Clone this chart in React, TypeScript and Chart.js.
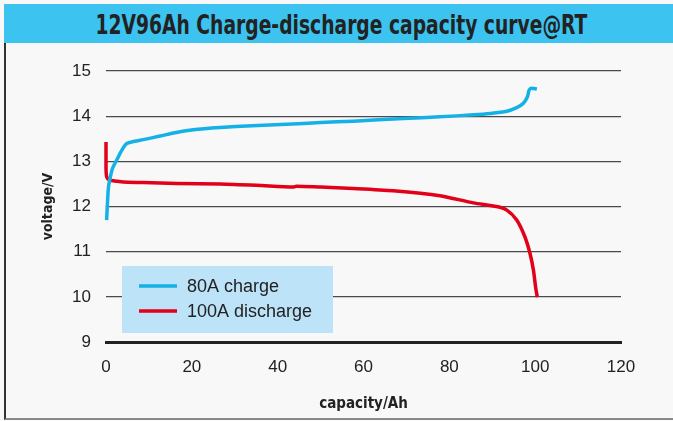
import React, { useEffect, useRef } from "react";
import { Chart, registerables } from "chart.js";

Chart.register(...registerables);

const chartTitle = "12V96Ah Charge-discharge capacity curve@RT";
const xTitle = "capacity/Ah";
const yTitle = "voltage/V";
const seriesLabels = ["80A charge", "100A discharge"];
const xTickValues = [0, 20, 40, 60, 80, 100, 120];
const yTickValues = [9, 10, 11, 12, 13, 14, 15];

const chargeCap = [0.15, 0.35, 0.6, 1.0, 1.5, 2.5, 3.7, 4.8, 6.0, 8.7, 12.6, 16.4, 20.3, 26.6, 34, 42.1, 50, 57.6, 69.3, 77.8, 85.6, 89.5, 93.4, 95.7, 97.2, 98.2, 98.6, 99.2, 100.4];
const chargeVolt = [11.7, 12.1, 12.45, 12.65, 12.84, 13.03, 13.25, 13.39, 13.43, 13.48, 13.56, 13.64, 13.7, 13.75, 13.79, 13.82, 13.86, 13.89, 13.95, 13.985, 14.03, 14.06, 14.11, 14.19, 14.28, 14.43, 14.58, 14.62, 14.6];

const dischargeCap = [0, 0, 0.15, 0.8, 2.5, 4, 8.7, 16.5, 26.6, 35, 43.6, 44.4, 50, 57.6, 66.9, 77.8, 85.6, 91, 93.4, 95.7, 97.6, 98.8, 99.6, 100.1, 100.5];
const dischargeVolt = [13.43, 12.88, 12.66, 12.59, 12.56, 12.54, 12.53, 12.51, 12.5, 12.47, 12.43, 12.45, 12.43, 12.4, 12.35, 12.24, 12.08, 12.0, 11.92, 11.7, 11.33, 10.96, 10.59, 10.22, 9.99];

const chargeColor = "#14b1e7";
const dischargeColor = "#e2001a";

const legendPlugin = {
  id: "boxLegend",
  afterDatasetsDraw(chart: any) {
    const { ctx, chartArea } = chart;
    const x0 = chartArea.left + 16;
    const y0 = chartArea.top + 195;
    const w = 211;
    const h = 67;
    ctx.save();
    ctx.fillStyle = "#bde3f8";
    ctx.fillRect(x0, y0, w, h);
    chart.data.datasets.forEach((ds: any, i: number) => {
      const y = y0 + 20 + i * 25;
      ctx.strokeStyle = ds.borderColor;
      ctx.lineWidth = 3.5;
      ctx.beginPath();
      ctx.moveTo(x0 + 17, y);
      ctx.lineTo(x0 + 55, y);
      ctx.stroke();
      ctx.fillStyle = "#222";
      ctx.font = "18px 'Liberation Sans', Arial, sans-serif";
      ctx.textBaseline = "middle";
      ctx.textAlign = "left";
      ctx.fillText(ds.label, x0 + 65, y + 1);
    });
    ctx.restore();
  },
};

export default function App() {
  const canvasRef = useRef<HTMLCanvasElement | null>(null);

  useEffect(() => {
    if (!canvasRef.current) return;
    const chart = new Chart(canvasRef.current, {
      type: "scatter",
      data: {
        datasets: [
          {
            label: seriesLabels[0],
            data: chargeCap.map((c, i) => ({ x: c, y: chargeVolt[i] })),
            showLine: true,
            borderColor: chargeColor,
            backgroundColor: chargeColor,
            borderWidth: 3.5,
            pointRadius: 0,
            tension: 0.25,
            clip: false,
          },
          {
            label: seriesLabels[1],
            data: dischargeCap.map((c, i) => ({ x: c, y: dischargeVolt[i] })),
            showLine: true,
            borderColor: dischargeColor,
            backgroundColor: dischargeColor,
            borderWidth: 3.5,
            pointRadius: 0,
            tension: 0.25,
            clip: false,
          },
        ],
      },
      options: {
        responsive: false,
        animation: false,
        devicePixelRatio: 1,
        layout: { padding: { top: 71, right: 52, left: 0, bottom: 0 } },
        plugins: {
          legend: { display: false },
          tooltip: { enabled: false },
          title: { display: false },
        },
        scales: {
          x: {
            type: "linear",
            min: 0,
            max: 120,
            afterBuildTicks: (s: any) => {
              s.ticks = xTickValues.map((v) => ({ value: v }));
            },
            afterFit: (s: any) => {
              s.height = 79;
            },
            ticks: {
              color: "#222",
              font: { family: "'Liberation Sans', Arial, sans-serif", size: 17 },
              padding: 15,
              maxRotation: 0,
            },
            grid: { display: false, drawTicks: false },
            border: { display: true, color: "#222", width: 3 },
            title: {
              display: true,
              text: xTitle,
              color: "#222",
              font: { family: "'DejaVu Sans Condensed', 'DejaVu Sans', sans-serif", size: 15, weight: "bold" },
              padding: { top: 0, bottom: 8 },
            },
          },
          y: {
            type: "linear",
            min: 9,
            max: 15,
            afterBuildTicks: (s: any) => {
              s.ticks = yTickValues.map((v) => ({ value: v }));
            },
            afterFit: (s: any) => {
              s.width = 106;
            },
            ticks: {
              color: "#222",
              font: { family: "'Liberation Sans', Arial, sans-serif", size: 17 },
              padding: 15,
            },
            grid: { color: "#4a4a4a", lineWidth: 1.3, drawTicks: false },
            border: { display: false },
            title: {
              display: true,
              text: yTitle,
              color: "#222",
              font: { family: "'DejaVu Sans Condensed', 'DejaVu Sans', sans-serif", size: 14, weight: "bold" },
              padding: { top: 40, bottom: 0 },
            },
          },
        },
      },
      plugins: [legendPlugin],
    });
    return () => chart.destroy();
  }, []);

  return (
    <div
      style={{
        position: "absolute",
        left: 0,
        top: 0,
        width: 673,
        height: 421,
        background: "#f8f8f8",
        overflow: "hidden",
      }}
    >
      <div
        style={{
          position: "absolute",
          left: 4,
          top: 4,
          width: 720,
          height: 414,
          borderLeft: "2px solid #333",
          borderBottom: "2px solid #8a8a8a",
        }}
      />
      <div
        style={{
          position: "absolute",
          left: 4,
          top: 4,
          width: 669,
          height: 39,
          background: "#3cc3f0",
          display: "flex",
          alignItems: "center",
          justifyContent: "center",
        }}
      >
        <span
          style={{
            fontFamily: "'DejaVu Sans Condensed', 'DejaVu Sans', sans-serif",
            fontWeight: "bold",
            fontSize: 26,
            color: "#222",
            whiteSpace: "nowrap",
            display: "inline-block",
            transform: "scaleX(0.8)",
            marginLeft: 6,
            marginTop: 2,
          }}
        >
          {chartTitle}
        </span>
      </div>
      <canvas
        ref={canvasRef}
        width={673}
        height={421}
        style={{ position: "absolute", left: 0, top: 0, width: 673, height: 421 }}
      />
    </div>
  );
}
